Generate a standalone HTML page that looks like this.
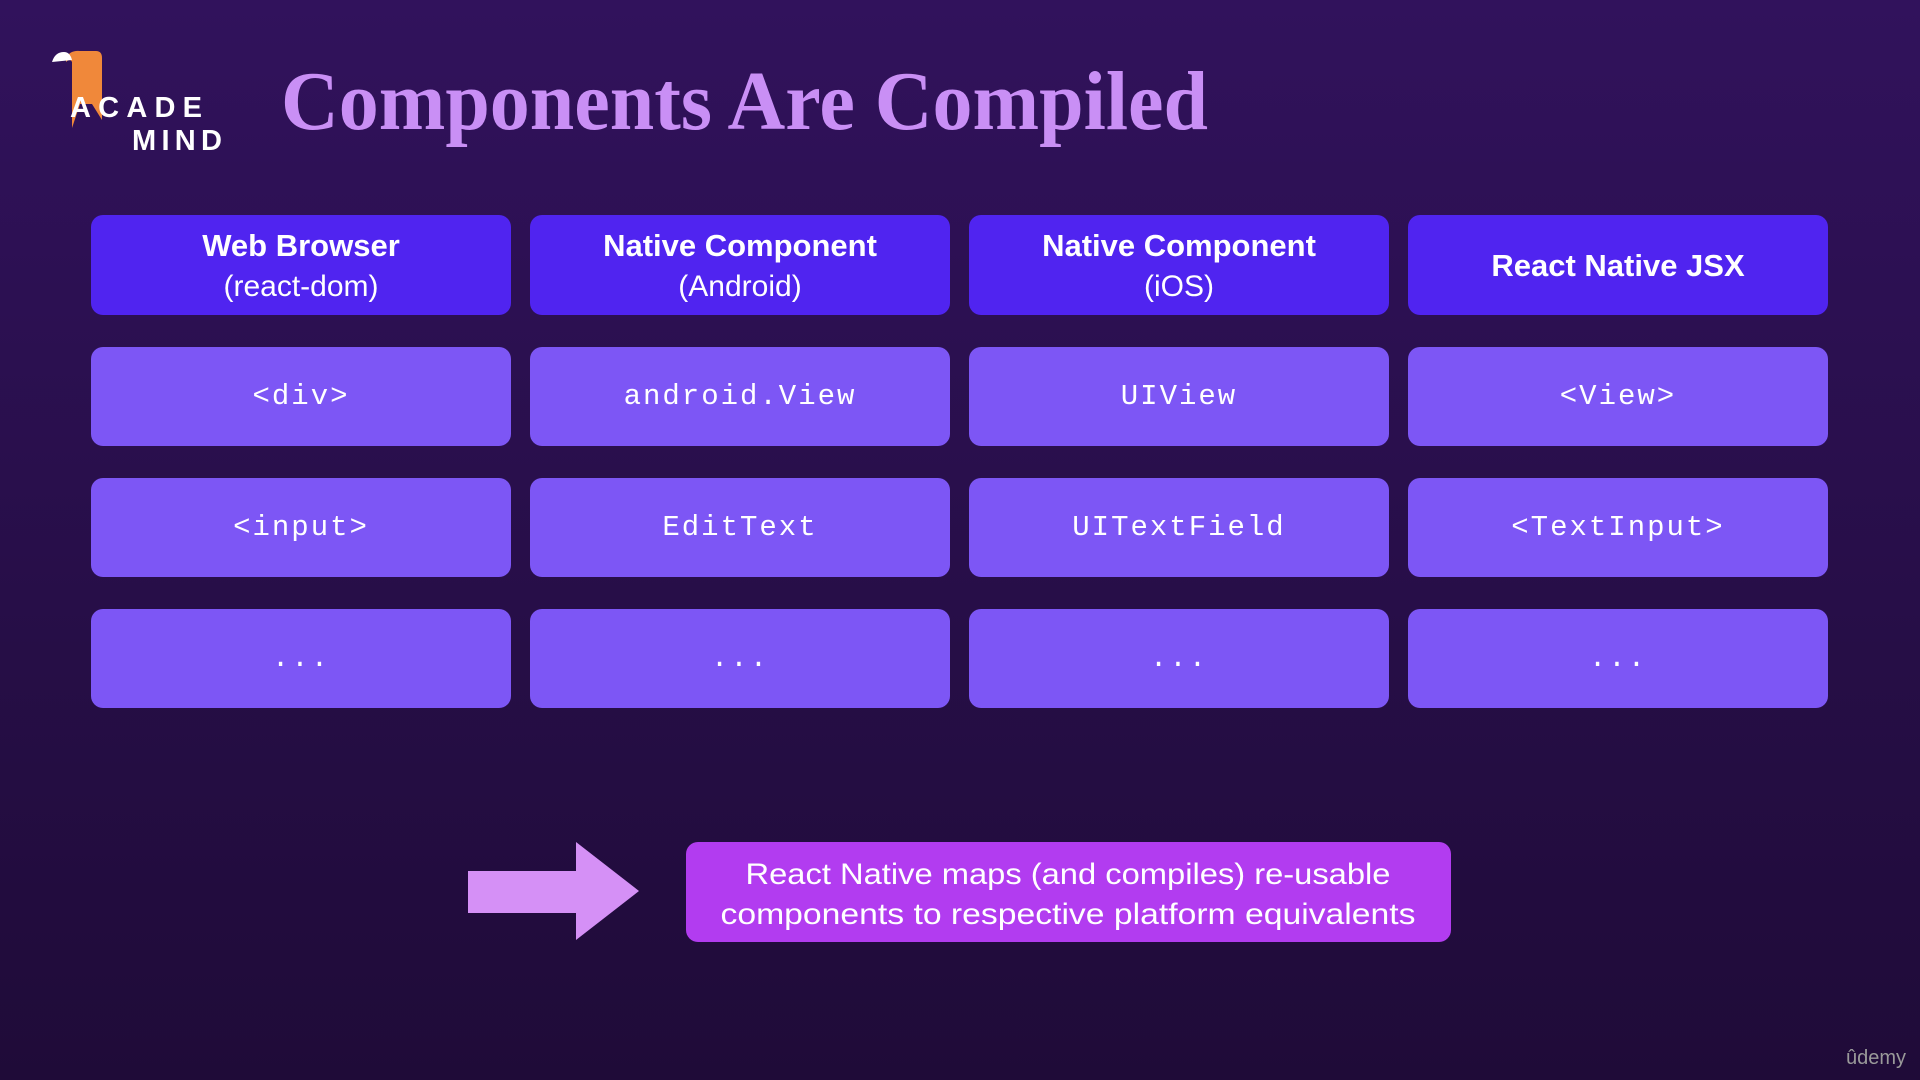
<!DOCTYPE html>
<html><head><meta charset="utf-8"><style>
html,body{margin:0;padding:0;width:1920px;height:1080px;overflow:hidden;background:#25103f}
svg{display:block}
.h{font-family:"Liberation Sans",sans-serif;font-weight:bold;font-size:31px;fill:#fff;text-anchor:middle}
.s{font-family:"Liberation Sans",sans-serif;font-size:30px;fill:#fff;text-anchor:middle}
.m{font-family:"Liberation Mono",monospace;font-size:29px;fill:#fff;text-anchor:middle;letter-spacing:2px}
</style></head><body>
<svg width="1920" height="1080" viewBox="0 0 1920 1080">
<defs><linearGradient id="bg" x1="0" y1="0" x2="0" y2="1"><stop offset="0" stop-color="#31125c"/><stop offset="1" stop-color="#1f0b38"/></linearGradient></defs>
<rect width="1920" height="1080" fill="url(#bg)"/>
<!-- logo -->
<path d="M66 58 Q70 50 80 51 L96 51 Q102 51 102 58 L102 120 L92 104 L80 104 L72 128 L72 62 Q70 58 66 62 Z" fill="#f0883a"/>
<path d="M52 62 Q55 52 64 52 Q70 52 72 60 Z" fill="#fff"/>
<text x="70" y="117" font-family="Liberation Sans,sans-serif" font-weight="bold" font-size="29" fill="#fff" textLength="132" lengthAdjust="spacing">ACADE</text>
<text x="132" y="150" font-family="Liberation Sans,sans-serif" font-weight="bold" font-size="29" fill="#fff" textLength="90" lengthAdjust="spacing">MIND</text>
<!-- title -->
<text x="281" y="129" font-family="Liberation Serif,serif" font-weight="bold" font-size="84" fill="#c98ff5" textLength="927" lengthAdjust="spacingAndGlyphs">Components Are Compiled</text>
<!-- headers -->
<g fill="#5024f0">
<rect x="91" y="215" width="420" height="100" rx="12"/>
<rect x="530" y="215" width="420" height="100" rx="12"/>
<rect x="969" y="215" width="420" height="100" rx="12"/>
<rect x="1408" y="215" width="420" height="100" rx="12"/>
</g>
<text class="h" x="301" y="256">Web Browser</text><text class="s" x="301" y="296">(react-dom)</text>
<text class="h" x="740" y="256">Native Component</text><text class="s" x="740" y="296">(Android)</text>
<text class="h" x="1179" y="256">Native Component</text><text class="s" x="1179" y="296">(iOS)</text>
<text class="h" x="1618" y="276">React Native JSX</text>
<g fill="#7d56f5">
<rect x="91" y="347" width="420" height="99" rx="12"/><rect x="530" y="347" width="420" height="99" rx="12"/><rect x="969" y="347" width="420" height="99" rx="12"/><rect x="1408" y="347" width="420" height="99" rx="12"/>
<rect x="91" y="478" width="420" height="99" rx="12"/><rect x="530" y="478" width="420" height="99" rx="12"/><rect x="969" y="478" width="420" height="99" rx="12"/><rect x="1408" y="478" width="420" height="99" rx="12"/>
<rect x="91" y="609" width="420" height="99" rx="12"/><rect x="530" y="609" width="420" height="99" rx="12"/><rect x="969" y="609" width="420" height="99" rx="12"/><rect x="1408" y="609" width="420" height="99" rx="12"/>
</g>
<text class="m" x="301" y="404">&lt;div&gt;</text><text class="m" x="740" y="404">android.View</text><text class="m" x="1179" y="404">UIView</text><text class="m" x="1618" y="404">&lt;View&gt;</text>
<text class="m" x="301" y="535">&lt;input&gt;</text><text class="m" x="740" y="535">EditText</text><text class="m" x="1179" y="535">UITextField</text><text class="m" x="1618" y="535">&lt;TextInput&gt;</text>
<text class="m" x="301" y="666">...</text><text class="m" x="740" y="666">...</text><text class="m" x="1179" y="666">...</text><text class="m" x="1618" y="666">...</text>
<!-- arrow -->
<path d="M468 871 L576 871 L576 842 L639 891 L576 940 L576 913 L468 913 Z" fill="#d590f6"/>
<rect x="686" y="842" width="765" height="100" rx="12" fill="#b23cf0"/>
<text class="s" x="1068" y="884" font-size="32" textLength="645" lengthAdjust="spacingAndGlyphs">React Native maps (and compiles) re-usable</text>
<text class="s" x="1068" y="924" font-size="32" textLength="695" lengthAdjust="spacingAndGlyphs">components to respective platform equivalents</text>
<text x="1906" y="1064" text-anchor="end" font-family="Liberation Sans,sans-serif" font-size="20" fill="#9a9a9a">ûdemy</text>
</svg>
</body></html>
